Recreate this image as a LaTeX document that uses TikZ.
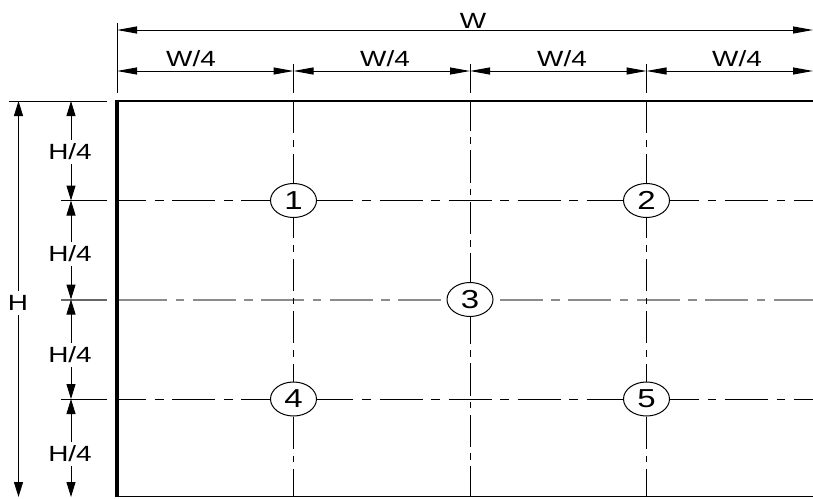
\documentclass[tikz,border=0pt]{standalone}
\usepackage{fontspec}
\setmainfont{Liberation Sans}
\usetikzlibrary{arrows.meta,shapes.geometric}
\tikzset{
  x=1pt,y=-1pt,
  hdim/.style={line width=1pt,{Triangle[length=20pt,width=7pt]}-{Triangle[length=20pt,width=7pt]}},
  vdim/.style={line width=1pt,{Triangle[length=15pt,width=9pt]}-{Triangle[length=15pt,width=9pt]}},
  ext/.style={line width=1pt},
  extgray/.style={line width=2pt,black!60},
  rowaxis/.style={line width=1pt,dash pattern=on 43pt off 8.7pt on 8.7pt off 8.7pt,dash phase=13.9pt},
  grayaxis/.style={line width=2pt,black!45,dash pattern=on 43pt off 8.5pt on 8.5pt off 8.5pt},
  colaxis/.style={line width=1pt,dash pattern=on 32pt off 7pt on 6.6pt off 7pt},
  midaxis/.style={line width=1pt,dash pattern=on 32.5pt off 6.2pt on 6.6pt off 6.2pt,dash phase=2.5pt},
  dimtext/.style={inner sep=0pt,font=\fontsize{22}{22}\selectfont},
  vtext/.style={dimtext,fill=white,minimum height=24pt},
  bubble/.style={draw,line width=1pt,fill=white,ellipse,minimum width=46pt,minimum height=34pt,inner sep=0pt,font=\fontsize{26}{26}\selectfont},
}
\newcommand{\wide}[1]{\scalebox{1.27}[1]{#1}}
\begin{document}
\begin{tikzpicture}
\useasboundingbox (0,0) rectangle (813,498);
% reference points
\coordinate (TL) at (117.2,101);
\coordinate (TLo) at (117.2,99.7);
\coordinate (TR) at (813,101);
\coordinate (BL) at (117.2,496.5);
\coordinate (BR) at (813,496.5);
\coordinate (A0) at (293.5,101);
\coordinate (A1) at (293.5,496);
\coordinate (C0) at (470,101);
\coordinate (C1) at (470,496);
\coordinate (E0) at (646.5,101);
\coordinate (E1) at (646.5,496);
\coordinate (R1a) at (117,200.5);
\coordinate (R1b) at (813,200.5);
\coordinate (R3a) at (117,399);
\coordinate (R3b) at (813,399);
\coordinate (R2a) at (118,299.5);
\coordinate (R2s) at (124,299.5);
\coordinate (R2m) at (470,299.5);
\coordinate (R2e) at (813,299.5);
\coordinate (Cc) at (470,299.5);
% axes
\draw[rowaxis] (R1a) -- (R1b);
\draw[rowaxis] (R3a) -- (R3b);
\draw[line width=2pt,black!45] (R2a) -- (R2s);
\draw[grayaxis] (R2s) -- (R2m);
\draw[grayaxis,dash phase=39pt] (R2m) -- (R2e);
\draw[colaxis] (A0) -- (A1);
\draw[colaxis] (E0) -- (E1);
\draw[midaxis] (C0) -- (Cc);
\draw[midaxis] (C1) -- (Cc);
% frame
\draw[line width=2.8pt] (TL) -- (TR);
\draw[line width=1.2pt] (BL) -- (BR);
\draw[line width=4pt] (TLo) -- (BL);
% extension lines, top
\coordinate (X0t) at (117,23);
\coordinate (X0b) at (117,93);
\coordinate (X1t) at (293.5,64);
\coordinate (X1b) at (293.5,93);
\coordinate (X2t) at (470,64);
\coordinate (X2b) at (470,93);
\coordinate (X3t) at (646.5,64);
\coordinate (X3b) at (646.5,93);
\draw[ext] (X0t) -- (X0b);
\draw[ext] (X1t) -- (X1b);
\draw[ext] (X2t) -- (X2b);
\draw[ext] (X3t) -- (X3b);
% extension lines, left
\coordinate (Y0a) at (9,101);
\coordinate (Y0b) at (107,101);
\coordinate (Y1a) at (61,200.5);
\coordinate (Y1b) at (107,200.5);
\coordinate (Y2a) at (61,299.5);
\coordinate (Y2b) at (107,299.5);
\coordinate (Y3a) at (61,399);
\coordinate (Y3b) at (107,399);
\draw[ext] (Y0a) -- (Y0b);
\draw[ext] (Y1a) -- (Y1b);
\draw[extgray] (Y2a) -- (Y2b);
\draw[ext] (Y3a) -- (Y3b);
% horizontal dimensions
\coordinate (W0) at (117,30);
\coordinate (W1) at (813,30);
\draw[hdim] (W0) -- (W1);
\coordinate (Q0) at (117,71);
\coordinate (Q1) at (293.5,71);
\coordinate (Q2) at (470,71);
\coordinate (Q3) at (646.5,71);
\coordinate (Q4) at (813,71);
\draw[hdim] (Q0) -- (Q1);
\draw[hdim] (Q1) -- (Q2);
\draw[hdim] (Q2) -- (Q3);
\draw[hdim] (Q3) -- (Q4);
% vertical dimensions
\coordinate (H0) at (18.5,101);
\coordinate (H1) at (18.5,497);
\draw[vdim,line width=1pt] (H0) -- (H1);
\coordinate (V0) at (71,101);
\coordinate (V1) at (71,200.5);
\coordinate (V2) at (71,299.5);
\coordinate (V3) at (71,399);
\coordinate (V4) at (71,497);
\draw[vdim] (V0) -- (V1);
\draw[vdim] (V1) -- (V2);
\draw[vdim] (V2) -- (V3);
\draw[vdim] (V3) -- (V4);
% labels
\node[dimtext] (lw) at (473,21) {\wide{W}};
\node[dimtext] (lw1) at (191,58.5) {\wide{W/4}};
\node[dimtext] (lw2) at (385,58.5) {\wide{W/4}};
\node[dimtext] (lw3) at (562,58.5) {\wide{W/4}};
\node[dimtext] (lw4) at (737,58.5) {\wide{W/4}};
\node[vtext] (lh) at (18,302.5) {\wide{H}};
\node[vtext] (lh1) at (70,152) {\wide{H/4}};
\node[vtext] (lh2) at (70,253.5) {\wide{H/4}};
\node[vtext] (lh3) at (70,355) {\wide{H/4}};
\node[vtext] (lh4) at (70,453.5) {\wide{H/4}};
% bubbles
\node[bubble] (n1) at (293.5,200.5) {\wide{1}};
\node[bubble] (n2) at (646.5,200.5) {\wide{2}};
\node[bubble] (n3) at (470,299.5) {\wide{3}};
\node[bubble] (n4) at (293.5,399) {\wide{4}};
\node[bubble] (n5) at (646.5,399) {\wide{5}};
\end{tikzpicture}
\end{document}
